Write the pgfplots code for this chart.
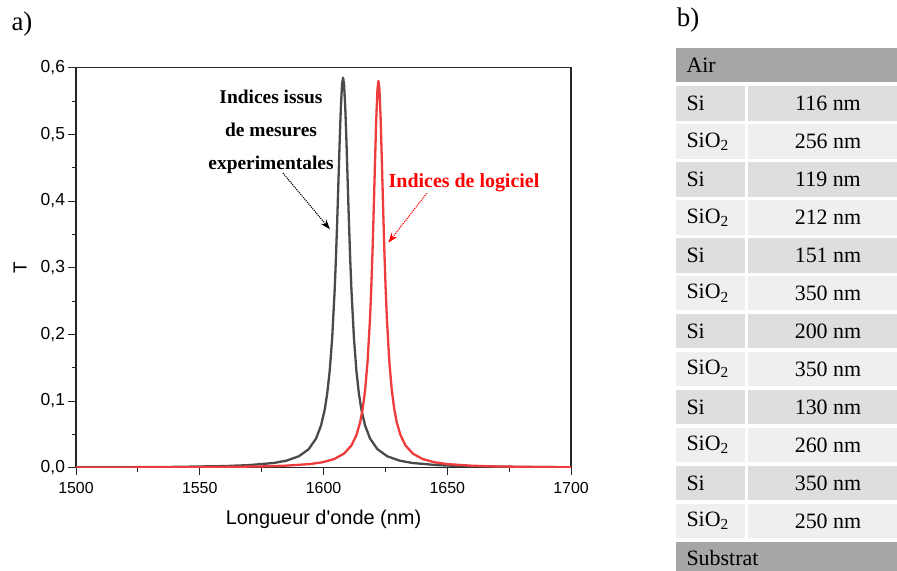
\documentclass[border=0pt]{standalone}
\usepackage{pgfplots}
\pgfplotsset{compat=1.18}
\usepackage{fontspec}
\setmainfont{Liberation Sans}
\newfontfamily\tnr{Liberation Serif}
\usetikzlibrary{arrows.meta}
\definecolor{curveblack}{HTML}{4A4A4A}
\definecolor{curvered}{HTML}{EE3B3B}
\definecolor{rowdark}{HTML}{A6A6A6}
\definecolor{rowsi}{HTML}{DEDEDE}
\definecolor{rowsio}{HTML}{EFEFEF}
\begin{document}
\begin{tikzpicture}[x=1bp,y=1bp]
\useasboundingbox (0,0) rectangle (897,571);
\begin{axis}[
  at={(76bp,103.3bp)}, anchor=south west,
  scale only axis, width=495bp, height=400bp,
  xmin=1500, xmax=1700, ymin=0, ymax=0.6,
  xtick={1500,1550,...,1700}, minor x tick num=1,
  ytick={0,0.1,0.2,0.3,0.4,0.5,0.6}, minor y tick num=1,
  tick align=outside, xtick pos=bottom, ytick pos=left,
  major tick length=7.5bp, minor tick length=4.3bp,
  tick style={black!85, line width=1bp},
  axis line style={line width=1.2bp, black!85},
  /pgf/number format/assume math mode=true,
  x tick label style={/pgf/number format/1000 sep={}, font=\fontsize{16}{18}\selectfont, yshift=-4bp},
  y tick label style={/pgf/number format/.cd, use comma, fixed, fixed zerofill, precision=1, /tikz/.cd, font=\fontsize{17.5}{19}\selectfont},
  xlabel={Longueur d\textquotesingle onde (nm)}, ylabel={T},
  every axis x label/.style={at={(axis description cs:0.5,0)}, anchor=center, yshift=-51.3bp, font=\fontsize{20}{22}\selectfont},
  every axis y label/.style={at={(axis description cs:-0.113,0.4993)}, rotate=90, anchor=center, font=\fontsize{19}{21}\selectfont},
]
\addplot[curveblack, line width=2.3bp, line join=round] coordinates {
(1500,0.000483) (1520,0.000727) (1540,0.001217) (1560,0.00244) (1570,0.00389)
(1580,0.00713) (1585,0.01053) (1590,0.01704) (1594,0.0277) (1597,0.0438)
(1599,0.0633) (1600.5,0.0873) (1601.5,0.1112) (1602.5,0.1450) (1603.5,0.1940)
(1604.5,0.2656) (1605,0.3120) (1605.5,0.3658) (1606,0.4253) (1606.5,0.4859)
(1607,0.5395) (1607.5,0.5754) (1607.9,0.585) (1608.3,0.5754) (1608.8,0.5395)
(1609.3,0.4859) (1609.8,0.4253) (1610.3,0.3658) (1610.8,0.3120) (1611.3,0.2656)
(1612.3,0.1940) (1613.3,0.1450) (1614.3,0.1112) (1615.3,0.0873) (1616.8,0.0633)
(1618.8,0.0438) (1621.8,0.0277) (1625.8,0.01704) (1630.8,0.01053) (1635.8,0.00713)
(1645.8,0.00389) (1655.8,0.00244) (1675.8,0.001217) (1700,0.000662)
};
\addplot[curvered, line width=2.3bp, line join=round] coordinates {
(1500,0.000283) (1520,0.000405) (1540,0.000625) (1554.3,0.000916) (1574.3,0.00184)
(1584.3,0.00293) (1594.3,0.00538) (1599.3,0.00795) (1604.3,0.0129) (1608.3,0.02109)
(1611.3,0.0335) (1613.3,0.0489) (1614.8,0.0681) (1615.8,0.0876) (1616.8,0.1160)
(1617.8,0.1587) (1618.8,0.2243) (1619.3,0.2693) (1619.8,0.3240) (1620.3,0.3879)
(1620.8,0.4571) (1621.3,0.5220) (1621.8,0.5675) (1622.2,0.580) (1622.6,0.5675)
(1623.1,0.5220) (1623.6,0.4571) (1624.1,0.3879) (1624.6,0.3240) (1625.1,0.2693)
(1625.6,0.2243) (1626.6,0.1587) (1627.6,0.1160) (1628.6,0.0876) (1629.6,0.0681)
(1631.1,0.0489) (1633.1,0.0335) (1636.1,0.02109) (1640.1,0.0129) (1645.1,0.00795)
(1650.1,0.00538) (1660.1,0.00293) (1670.1,0.00184) (1690.1,0.000916) (1700,0.000698)
};
\draw[black, densely dotted, line width=1.1bp, -{Stealth[length=10bp,width=7bp]}] (axis cs:1583.6,0.442) -- (axis cs:1602.6,0.3576);
\draw[red, densely dotted, line width=1.1bp, -{Stealth[length=10bp,width=7bp]}] (axis cs:1641.7,0.4116) -- (axis cs:1626.2,0.3375);
\end{axis}
% annotations
\node[align=center, font=\tnr\bfseries\fontsize{19.5}{33}\selectfont] at (271,439.5) {Indices issus\\de mesures\\experimentales};
\node[text=red, font=\tnr\bfseries\fontsize{20}{24}\selectfont] at (464,388) {Indices de logiciel};
\node[font=\tnr\fontsize{27}{30}\selectfont] at (22,547) {a)};
\node[font=\tnr\fontsize{27}{30}\selectfont] at (688,551) {b)};
% table b)
\fill[rowdark] (676,522.7) rectangle (897,489.0);
\node[anchor=west, font=\tnr\fontsize{22}{26}\selectfont] at (683,505.9) {Air};
\foreach \i/\mat/\th in {1/Si/116,2/SiO\textsubscript{2}/256,3/Si/119,4/SiO\textsubscript{2}/212,5/Si/151,6/SiO\textsubscript{2}/350,7/Si/200,8/SiO\textsubscript{2}/350,9/Si/130,10/SiO\textsubscript{2}/260,11/Si/350,12/SiO\textsubscript{2}/250}{
  \pgfmathsetmacro{\top}{522.7-37.95*\i}
  \pgfmathsetmacro{\bot}{\top-34.5}
  \pgfmathsetmacro{\mid}{\top-17.25}
  \pgfmathtruncatemacro{\odd}{mod(\i,2)}
  \ifnum\odd=1 \def\rc{rowsi}\else\def\rc{rowsio}\fi
  \fill[\rc] (676,\top) rectangle (745,\bot);
  \fill[\rc] (748,\top) rectangle (897,\bot);
  \node[anchor=west, font=\tnr\fontsize{22}{26}\selectfont] at (683,\mid) {\mat};
  \node[font=\tnr\fontsize{22}{26}\selectfont] at (828,\mid) {\th{} nm};
}
\fill[rowdark] (676,29.35) rectangle (897,0);
\node[anchor=west, font=\tnr\fontsize{22}{26}\selectfont] at (683,12.5) {Substrat};
\end{tikzpicture}
\end{document}
